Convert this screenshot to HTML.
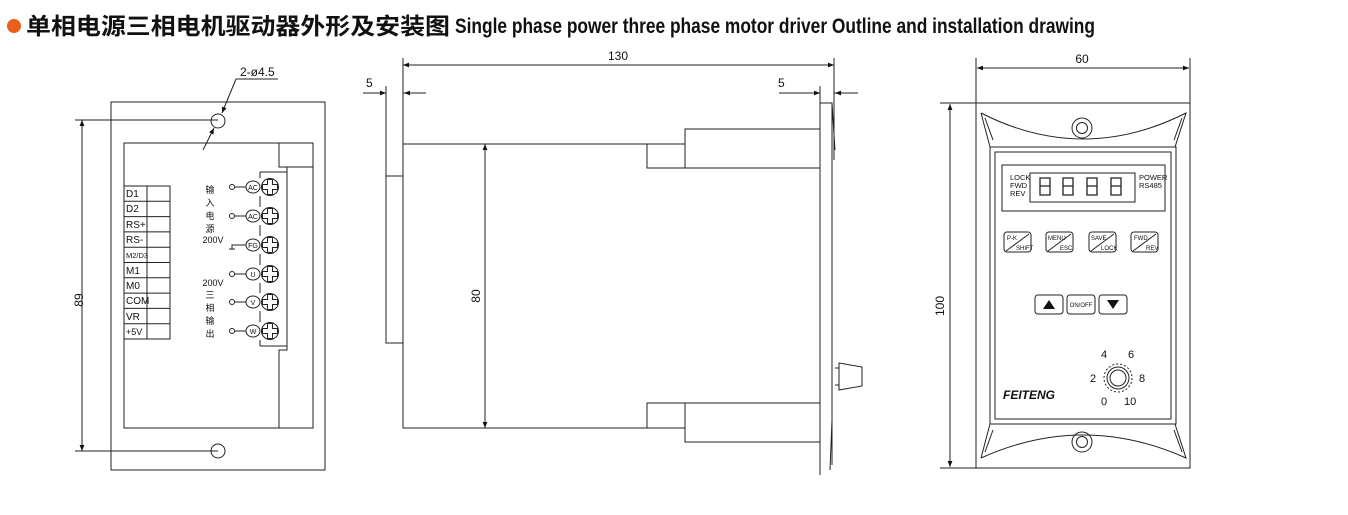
<!DOCTYPE html>
<html><head><meta charset="utf-8"><style>
html,body{margin:0;padding:0;background:#fff;}
svg{display:block;}
text{font-family:"Liberation Sans","Noto Sans CJK SC",sans-serif;fill:#111;}
</style></head><body>
<svg width="1348" height="515" viewBox="0 0 1348 515" xmlns="http://www.w3.org/2000/svg">
<defs>
<marker id="a" viewBox="0 0 10 10" refX="10" refY="5" markerWidth="9" markerHeight="6" orient="auto-start-reverse" markerUnits="userSpaceOnUse"><path d="M0,1 L10,5 L0,9 z" fill="#111"/></marker>
</defs>
<circle cx="14" cy="26" r="7" fill="#e8601c"/>
<text x="26" y="34" font-size="23" font-weight="bold" textLength="424" lengthAdjust="spacingAndGlyphs" style="font-family:'Noto Sans CJK SC',sans-serif">单相电源三相电机驱动器外形及安装图</text>
<text x="455" y="33" font-size="21" font-weight="bold" textLength="640" lengthAdjust="spacingAndGlyphs">Single phase power three phase motor driver Outline and installation drawing</text>

<g fill="none" stroke="#222" stroke-width="1">
<rect x="111" y="102" width="214" height="368"/>
<rect x="124" y="143" width="189" height="285"/>
<rect x="279" y="143" width="34" height="24"/>
<path d="M287,167 V350 H279 V428"/>
<path d="M260,172 V178 M260,196 V207 M260,225 V236 M260,254 V265 M260,283 V293 M260,311 V322 M260,340 V346 M260,172 H287 M260,346 H287"/>
<circle cx="218" cy="121" r="7"/>
<circle cx="218" cy="451" r="7"/>
<path d="M75,120 H218 M75,451 H218"/>
<line x1="82" y1="120" x2="82" y2="451" marker-start="url(#a)" marker-end="url(#a)"/>
<path d="M236,79 H278"/>
<line x1="236" y1="79" x2="222" y2="113" marker-end="url(#a)"/>
<line x1="203" y1="150" x2="214" y2="128" marker-end="url(#a)"/>
<rect x="124" y="186" width="46" height="153"/>
<line x1="147" y1="186" x2="147" y2="339"/>
<path d="M124,201.3H170M124,216.6H170M124,231.9H170M124,247.2H170M124,262.5H170M124,277.8H170M124,293.1H170M124,308.4H170M124,323.7H170"/>
<g id="t">
<circle cx="270" cy="187" r="8.5"/>
<path d="M267.5,179.5V184.5H262.5V189.5H267.5V194.5H272.5V189.5H277.5V184.5H272.5V179.5Z"/>
</g>
<use href="#t" y="29"/><use href="#t" y="58"/><use href="#t" y="87"/><use href="#t" y="115"/><use href="#t" y="144"/>
<g>
<circle cx="232" cy="187" r="2.5"/><path d="M234.5,187H246"/><ellipse cx="253" cy="187" rx="7" ry="6"/>
<circle cx="232" cy="216" r="2.5"/><path d="M234.5,216H246"/><ellipse cx="253" cy="216" rx="7" ry="6"/>
<path d="M232,249V245H246M229,249H235"/><ellipse cx="253" cy="245" rx="7" ry="6"/>
<circle cx="232" cy="274" r="2.5"/><path d="M234.5,274H246"/><ellipse cx="253" cy="274" rx="7" ry="6"/>
<circle cx="232" cy="302" r="2.5"/><path d="M234.5,302H246"/><ellipse cx="253" cy="302" rx="7" ry="6"/>
<circle cx="232" cy="331" r="2.5"/><path d="M234.5,331H246"/><ellipse cx="253" cy="331" rx="7" ry="6"/>
</g>

<path d="M403,85 V428 H647 M403,144 H647"/>
<rect x="386" y="176" width="17" height="167"/>
<rect x="647" y="144" width="38" height="24"/>
<rect x="685" y="129" width="135" height="39"/>
<rect x="647" y="403" width="38" height="25"/>
<rect x="685" y="403" width="135" height="39"/>
<path d="M820,86 V475 M820,103 H832 V465 M832,103 L835,150 M832,420 L830,470"/>
<path d="M834,80 V160"/>
<path d="M835,368 H839 V385 H835 M839,363 L862,367 V386 L839,390 Z"/>
<line x1="403" y1="65" x2="834" y2="65" marker-start="url(#a)" marker-end="url(#a)"/>
<path d="M403,58 V85 M834,58 V80"/>
<path d="M363,93 H386 M403,93 H426"/>
<line x1="375" y1="93" x2="386" y2="93" marker-end="url(#a)"/>
<line x1="426" y1="93" x2="404" y2="93" marker-end="url(#a)"/>
<path d="M386,86 V176"/>
<path d="M779,93 H820 M834,93 H858"/>
<line x1="800" y1="93" x2="820" y2="93" marker-end="url(#a)"/>
<line x1="858" y1="93" x2="835" y2="93" marker-end="url(#a)"/>
<line x1="485" y1="144" x2="485" y2="428" marker-start="url(#a)" marker-end="url(#a)"/>

<rect x="976" y="103" width="214" height="365"/>
<path d="M976,58 V103 M1190,58 V103"/>
<line x1="977" y1="68" x2="1189" y2="68" marker-start="url(#a)" marker-end="url(#a)"/>
<path d="M940,103 H1190 M940,468 H976"/>
<line x1="950" y1="104" x2="950" y2="467" marker-start="url(#a)" marker-end="url(#a)"/>
<rect x="990" y="147" width="186" height="277"/>
<rect x="995" y="152" width="176" height="267"/>
<path d="M981,113 Q1083,165 1186,113 L1175,147 M981,113 L990,147 M985,118 L993,140 M1182,118 L1174,140"/>
<path d="M981,458 Q1083,412 1186,458 L1175,424 M981,458 L990,424 M985,452 L993,430 M1182,452 L1174,430"/>
<circle cx="1082" cy="128" r="10"/><circle cx="1082" cy="128" r="5.5"/>
<circle cx="1082" cy="442" r="10"/><circle cx="1082" cy="442" r="5.5"/>
<rect x="1002" y="165" width="163" height="46"/>
<rect x="1030" y="173" width="105" height="29"/>
<g stroke-width="1.3">
<path d="M1040,178H1050V195H1040ZM1040,186H1050"/>
<path d="M1063,178H1073V195H1063ZM1063,186H1073"/>
<path d="M1087,178H1097V195H1087ZM1087,186H1097"/>
<path d="M1111,178H1121V195H1111ZM1111,186H1121"/>
</g>
<g>
<rect x="1004" y="232" width="27" height="20" rx="3"/><path d="M1006,251 L1029,234"/>
<rect x="1046" y="232" width="27" height="20" rx="3"/><path d="M1048,251 L1071,234"/>
<rect x="1089" y="232" width="27" height="20" rx="3"/><path d="M1091,251 L1114,234"/>
<rect x="1131" y="232" width="27" height="20" rx="3"/><path d="M1133,251 L1156,234"/>
<rect x="1035" y="295" width="28" height="19" rx="3"/>
<rect x="1067" y="295" width="28" height="19" rx="3"/>
<rect x="1099" y="295" width="28" height="19" rx="3"/>
</g>
<circle cx="1118" cy="378" r="14" stroke-dasharray="2 2"/>
<circle cx="1118" cy="378" r="11"/>
<circle cx="1118" cy="378" r="8"/>
</g>
<path d="M1043,309 L1049,300 L1055,309Z M1107,300 L1119,300 L1113,309Z" fill="#111"/>

<g font-size="10">
<text x="240" y="76" font-size="12">2-ø4.5</text>
<text x="76" y="307" font-size="12" transform="rotate(-90 76 300)" text-anchor="middle">89</text>
<text x="126" y="197">D1</text><text x="126" y="212">D2</text><text x="126" y="228">RS+</text><text x="126" y="243">RS-</text>
<text x="126" y="258" font-size="7.5">M2/D3</text><text x="126" y="274">M1</text><text x="126" y="289">M0</text>
<text x="126" y="304">COM</text><text x="126" y="320">VR</text><text x="126" y="335" font-size="9">+5V</text>
<g font-size="9" text-anchor="middle">
<text x="210" y="193">输</text><text x="210" y="206">入</text><text x="210" y="219">电</text><text x="210" y="232">源</text><text x="213" y="243">200V</text>
<text x="213" y="286">200V</text><text x="210" y="298">三</text><text x="210" y="311">相</text><text x="210" y="324">输</text><text x="210" y="337">出</text>
</g>
<g font-size="7" text-anchor="middle">
<text x="253" y="190">AC</text><text x="253" y="219">AC</text><text x="253" y="248">FG</text><text x="253" y="277">U</text><text x="253" y="305">V</text><text x="253" y="334">W</text>
</g>
<text x="618" y="60" font-size="12" text-anchor="middle">130</text>
<text x="366" y="87" font-size="12">5</text>
<text x="778" y="87" font-size="12">5</text>
<text x="484" y="300" font-size="12" transform="rotate(-90 480 300)" text-anchor="middle">80</text>
<text x="1082" y="63" font-size="12" text-anchor="middle">60</text>
<text x="943" y="315" font-size="12" transform="rotate(-90 939 310)" text-anchor="middle">100</text>
<g font-size="7.5"><text x="1010" y="180">LOCK</text><text x="1010" y="188">FWD</text><text x="1010" y="196">REV</text>
<text x="1139" y="180">POWER</text><text x="1139" y="188">RS485</text></g>
<g font-size="6"><text x="1007" y="240">P-K</text><text x="1016" y="250">SHIFT</text>
<text x="1048" y="240">MENU</text><text x="1060" y="250">ESC</text>
<text x="1091" y="240">SAVE</text><text x="1101" y="250">LOCK</text>
<text x="1134" y="240">FWD</text><text x="1146" y="250">REV</text>
<text x="1081" y="307" text-anchor="middle">ON/OFF</text></g>
<g font-size="11"><text x="1101" y="358">4</text><text x="1128" y="358">6</text><text x="1090" y="382">2</text><text x="1139" y="382">8</text><text x="1101" y="405">0</text><text x="1124" y="405">10</text></g>
<text x="1003" y="399" font-size="12" font-weight="bold" font-style="italic">FEITENG</text>
</g>
</svg>
</body></html>
